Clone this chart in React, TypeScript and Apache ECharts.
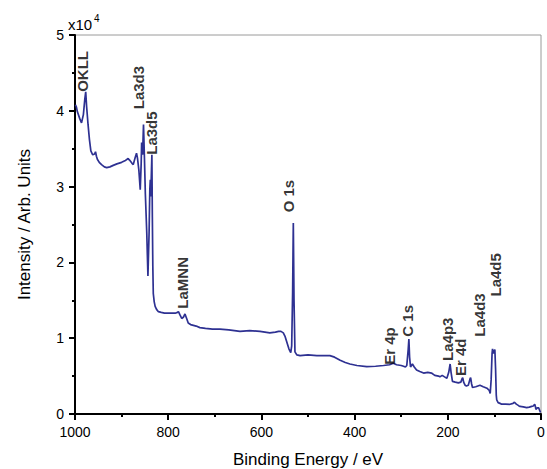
import React, { useEffect, useRef } from "react";
import * as echarts from "echarts";

// XPS survey spectrum: binding energy (eV) and intensity (counts)
const bindingEnergy = [
  999, 997, 995, 990, 986, 982, 979, 977, 975, 972, 969, 966, 962, 958, 956, 954, 952, 948, 943, 937,
  932, 925, 918, 910, 900, 893, 886, 883, 878, 875, 871, 868, 866, 863, 860, 858, 857, 855, 853, 851,
  849, 846, 843.5, 841, 839.5, 838.4, 837.5, 836, 835, 834, 833, 832, 830, 828, 825, 821, 815, 808, 800, 792,
  785, 780, 778, 775, 771, 767, 764, 761, 757, 752, 746, 740, 732, 720, 705, 689, 670, 646, 625, 603,
  582, 570, 563, 558, 553, 549, 546, 541, 537, 535, 533, 531.5, 530, 528, 524, 517, 500, 481, 465, 453,
  443, 431, 420, 410, 395, 374, 355, 338, 325, 317, 310, 300, 295, 291, 288, 285, 283.5, 282, 280, 276,
  272, 267, 260, 252, 243, 235, 228, 220, 217, 212, 207, 202, 198, 195, 193, 190, 184, 177.5, 172, 169,
  168, 166, 163, 160, 156, 152, 151, 149, 147, 140, 131, 124, 116, 111, 109, 107, 105, 104, 102, 100.5,
  99, 97.5, 96, 95, 92, 88, 84.5, 76, 66.5, 60, 57, 53, 48, 45, 38, 30.7, 25, 20, 16.5, 13.5,
  12, 11, 8, 5, 3, 1,
];

const intensity = [
  40800, 40500, 39900, 39000, 38400, 39500, 41500, 42500, 40500, 38200, 36200, 34700, 34200, 34300, 34600, 34000, 33600, 33200, 32900, 32600,
  32500, 32600, 32800, 33000, 33200, 33400, 33700, 33500, 33100, 32900, 33800, 34400, 33800, 32200, 29600, 33000, 35800, 34200, 38200, 33800,
  29000, 23900, 18200, 23900, 29500, 30900, 28700, 32000, 34200, 26000, 19500, 15900, 14800, 14200, 13800, 13500, 13400, 13300, 13300, 13300,
  13300, 13400, 13500, 13100, 12600, 12800, 13200, 12700, 12000, 11800, 11700, 11600, 11400, 11300, 11200, 11200, 11100, 10900, 11000, 10900,
  10700, 10800, 10900, 10900, 10700, 10200, 9600, 8600, 8100, 9000, 16000, 25200, 15000, 8200, 7800, 7700, 7800, 7700, 7700, 7700,
  7500, 7100, 6800, 6600, 6400, 6250, 6300, 6400, 6500, 6700, 6500, 6400, 6300, 6200, 6400, 8500, 9900, 7500, 6200, 6600,
  6200, 5800, 5600, 5400, 5500, 5400, 5100, 5000, 4900, 5100, 4900, 4700, 5500, 6600, 5500, 4300, 4200, 4100, 4200, 4700,
  4800, 4200, 3800, 3700, 3800, 4700, 4800, 4000, 3500, 3600, 3800, 3600, 3400, 3100, 2700, 4500, 8000, 8600, 8000, 8200,
  8500, 6000, 2500, 1850, 1500, 1400, 1300, 1300, 1280, 1400, 1550, 1300, 1100, 1000, 950, 850, 900, 1000, 1050, 1300,
  1000, 600, 800, 800, 500, 200,
];

// Peak assignments, anchored at the foot of each rotated label
const peakNames = ["OKLL", "La3d3", "La3d5", "LaMNN", "O 1s", "Er 4p", "C 1s", "La4p3", "Er 4d", "La4d3", "La4d5"];
const peakLabelEnergy = [984, 863, 835, 770, 541, 326, 287, 200, 172, 131, 97];
const peakLabelIntensity = [42500, 40200, 34200, 13900, 26600, 6500, 10200, 7000, 5000, 10200, 15500];

const FONT = "'Liberation Sans', Arial, sans-serif";

export default function App() {
  const ref = useRef<HTMLDivElement>(null);

  useEffect(() => {
    document.body.style.margin = "0";
    if (!ref.current) return;
    const chart = echarts.init(ref.current, undefined, { renderer: "svg" });

    const spectrum = bindingEnergy.map((e, i) => [e, intensity[i]]);
    const labels = peakNames.map((n, i) => [peakLabelEnergy[i], peakLabelIntensity[i], n]);

    chart.setOption({
      animation: false,
      backgroundColor: "#fff",
      textStyle: { fontFamily: FONT },
      grid: {
        left: 75,
        right: 6,
        top: 35,
        bottom: 55,
        outerBoundsMode: "none",
        containLabel: false,
        show: true,
        borderColor: "#9a9a9a",
        borderWidth: 1,
        backgroundColor: "transparent",
      },
      graphic: [
        {
          type: "text",
          left: 68,
          top: 17,
          style: { text: "x10", fontSize: 15, fontFamily: FONT, fill: "#000" },
        },
        {
          type: "text",
          left: 94,
          top: 13,
          style: { text: "4", fontSize: 10, fontFamily: FONT, fill: "#000" },
        },
      ],
      xAxis: {
        type: "value",
        inverse: true,
        min: 0,
        max: 1000,
        interval: 200,
        name: "Binding Energy / eV",
        nameLocation: "middle",
        nameGap: 37,
        nameTextStyle: { fontSize: 17, color: "#000", fontFamily: FONT },
        axisLine: { onZero: false, lineStyle: { color: "#000", width: 2 } },
        axisTick: { length: 6, lineStyle: { color: "#000", width: 2 } },
        minorTick: { show: true, splitNumber: 2, length: 3, lineStyle: { color: "#000", width: 2 } },
        splitLine: { show: false },
        axisLabel: {
          fontSize: 14,
          color: "#000",
          margin: 11,
          fontFamily: FONT,
          formatter: (v: number) => String(v),
        },
      },
      yAxis: {
        type: "value",
        min: 0,
        max: 50000,
        interval: 10000,
        name: "Intensity / Arb. Units",
        nameLocation: "middle",
        nameGap: 42,
        nameTextStyle: { fontSize: 17, color: "#000", fontFamily: FONT },
        axisLine: { onZero: false, lineStyle: { color: "#000", width: 2 } },
        axisTick: { length: 6, lineStyle: { color: "#000", width: 2 } },
        minorTick: { show: true, splitNumber: 2, length: 3, lineStyle: { color: "#000", width: 2 } },
        splitLine: { show: false },
        axisLabel: {
          fontSize: 14,
          color: "#000",
          margin: 11,
          fontFamily: FONT,
          formatter: (v: number) => String(v / 10000),
        },
      },
      series: [
        {
          type: "line",
          data: spectrum,
          showSymbol: false,
          symbol: "none",
          lineStyle: { color: "#2e3192", width: 1.7 },
          silent: true,
          z: 3,
        },
        {
          type: "scatter",
          data: labels,
          symbolSize: 0,
          silent: true,
          z: 4,
          label: {
            show: true,
            position: "inside",
            rotate: 90,
            align: "left",
            verticalAlign: "middle",
            fontSize: 15,
            fontWeight: "bold",
            color: "#000",
            fontFamily: FONT,
            formatter: (p: any) => p.data[2],
          },
        },
      ],
    });

    return () => chart.dispose();
  }, []);

  return <div ref={ref} style={{ width: 547, height: 469 }} />;
}
